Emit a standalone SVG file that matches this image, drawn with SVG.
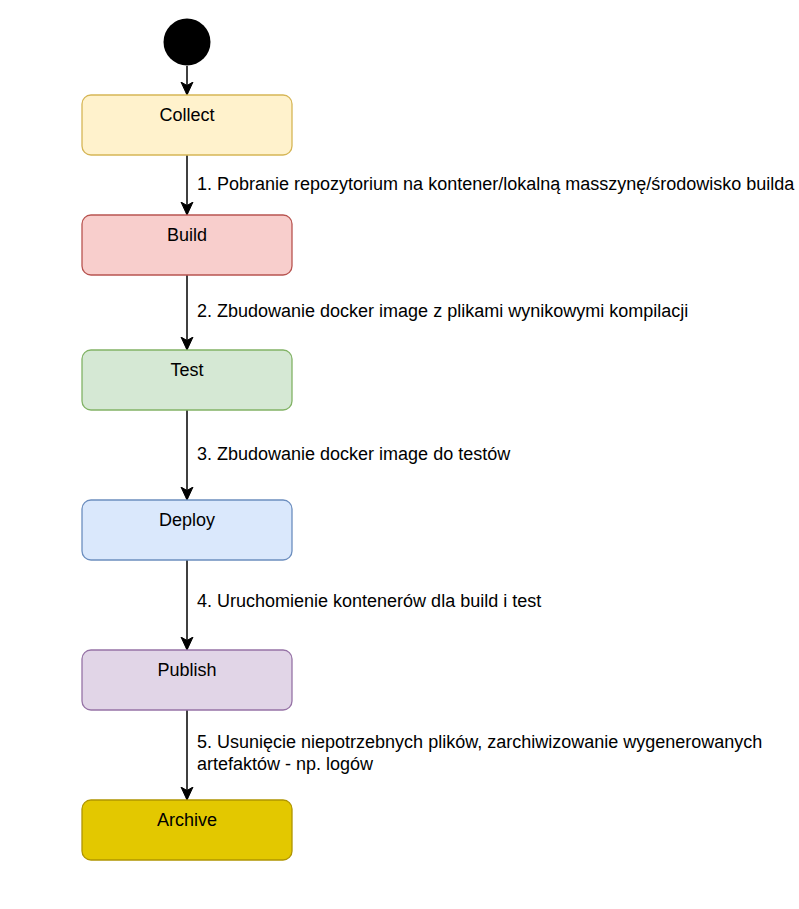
<svg xmlns="http://www.w3.org/2000/svg" width="799" height="909" viewBox="0 0 799 909">
<defs>
<marker id="arr" markerWidth="14" markerHeight="14" refX="13" refY="6.5" orient="auto" markerUnits="userSpaceOnUse">
<path d="M0,0.5 L13,6.5 L0,12.5 L3.5,6.5 Z" fill="#000" stroke="#000" stroke-width="1"/>
</marker>
<style>
text{font-family:"Liberation Sans",Arial,Helvetica,sans-serif;font-size:18px;fill:#000}
.n{text-anchor:middle}
.b{stroke-width:1.3}
.e{fill:none;stroke:#000;stroke-width:1.5;marker-end:url(#arr)}
</style>
</defs>
<rect width="799" height="909" fill="#fff"/>
<g id="start"><circle cx="187" cy="42" r="23.5" fill="#000"/></g>
<g id="connectors">
<path class="e" d="M187,66 V95"/>
<path class="e" d="M187,155 V215"/>
<path class="e" d="M187,275 V350"/>
<path class="e" d="M187,410 V500"/>
<path class="e" d="M187,560 V650"/>
<path class="e" d="M187,710 V800"/>
<text x="197" y="190">1. Pobranie repozytorium na kontener/lokalną masszynę/środowisko builda</text>
<text x="197" y="317">2. Zbudowanie docker image z plikami wynikowymi kompilacji</text>
<text x="197" y="460">3. Zbudowanie docker image do testów</text>
<text x="197" y="607">4. Uruchomienie kontenerów dla build i test</text>
<text x="197" y="748">5. Usunięcie niepotrzebnych plików, zarchiwizowanie wygenerowanych</text>
<text x="197" y="770">artefaktów - np. logów</text>
</g>
<g id="collect"><rect class="b" x="82" y="95" width="210" height="60" rx="9" fill="#fff2cc" stroke="#d6b656"/><text class="n" x="187" y="121">Collect</text></g>
<g id="build"><rect class="b" x="82" y="215" width="210" height="60" rx="9" fill="#f8cecc" stroke="#b85450"/><text class="n" x="187" y="241">Build</text></g>
<g id="test"><rect class="b" x="82" y="350" width="210" height="60" rx="9" fill="#d5e8d4" stroke="#82b366"/><text class="n" x="187" y="376">Test</text></g>
<g id="deploy"><rect class="b" x="82" y="500" width="210" height="60" rx="9" fill="#dae8fc" stroke="#6c8ebf"/><text class="n" x="187" y="526">Deploy</text></g>
<g id="publish"><rect class="b" x="82" y="650" width="210" height="60" rx="9" fill="#e1d5e7" stroke="#9673a6"/><text class="n" x="187" y="676">Publish</text></g>
<g id="archive"><rect class="b" x="82" y="800" width="210" height="60" rx="9" fill="#e3c800" stroke="#b09500"/><text class="n" x="187" y="826">Archive</text></g>
</svg>
